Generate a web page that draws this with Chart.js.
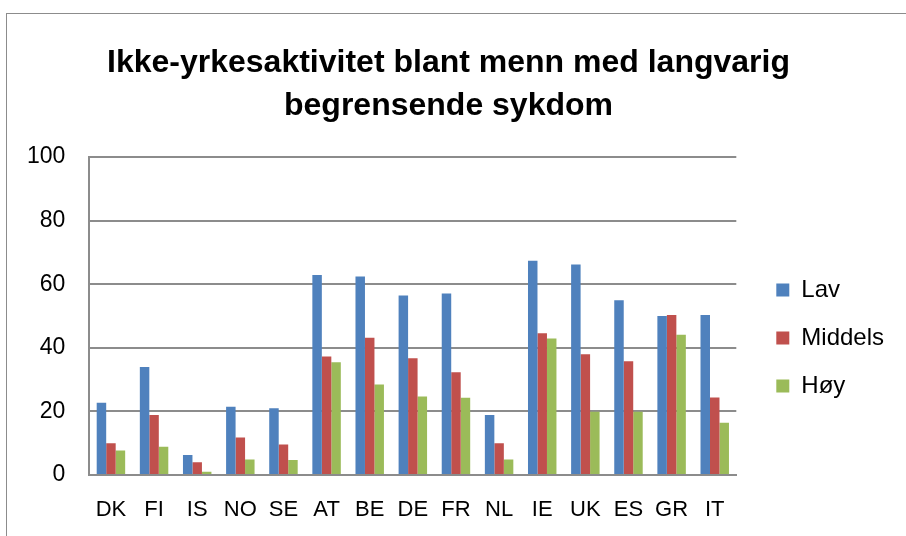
<!DOCTYPE html>
<html>
<head>
<meta charset="utf-8">
<script src="https://cdn.jsdelivr.net/npm/chart.js@4"></script>
<style>
  html, body { margin: 0; padding: 0; background: #fff; }
  #wrap { position: relative; width: 906px; height: 536px; overflow: hidden; }
  #frame { position: absolute; left: 6px; top: 13px; width: 1000px; height: 1000px; border: 1.5px solid #8c8c8c; }
  #chart { position: absolute; left: 0; top: 0; }
</style>
</head>
<body>
<div id="wrap">
  <div id="frame"></div>
  <canvas id="chart" width="906" height="536"></canvas>
</div>
<script>
// Chart data
const countries = ['DK', 'FI', 'IS', 'NO', 'SE', 'AT', 'BE', 'DE', 'FR', 'NL', 'IE', 'UK', 'ES', 'GR', 'IT'];
const lav     = [22.7, 34.0, 6.3, 21.5, 21.0, 62.9, 62.4, 56.5, 57.1, 18.9, 67.4, 66.2, 55.0, 50.0, 50.3];
const middels = [10.0, 18.9, 4.0, 11.8, 9.6, 37.3, 43.2, 36.7, 32.3, 10.0, 44.6, 38.0, 35.8, 50.3, 24.4];
const hoy     = [7.7, 8.9, 1.0, 4.9, 4.7, 35.5, 28.5, 24.7, 24.3, 4.9, 42.9, 19.9, 19.9, 44.1, 16.4];
const yTicks  = [0, 20, 40, 60, 80, 100];

const fontFamily = '"Liberation Sans", Arial, sans-serif';

function makeSet(label, data, color) {
    return {
        label: label,
        data: data,
        backgroundColor: color,
        borderWidth: 0,
        categoryPercentage: 0.66,
        barPercentage: 1.0,
        yAxisID: 'y'
    };
}

const ctx = document.getElementById('chart');
new Chart(ctx, {
    type: 'bar',
    data: {
        labels: countries,
        datasets: [
            makeSet('Lav', lav, '#4F81BD'),
            makeSet('Middels', middels, '#C0504D'),
            makeSet('Høy', hoy, '#9BBB59')
        ]
    },
    options: {
        responsive: false,
        animation: false,
        layout: {
            padding: { left: 3, right: 12, top: 42, bottom: 0 }
        },
        scales: {
            x: {
                grid: { display: false, drawTicks: false },
                border: { color: '#8c8c8c', width: 2 },
                ticks: { color: '#000', font: { family: fontFamily, size: 22 }, padding: 22 },
                afterFit: function(scale) { scale.height = 61; }
            },
            y: {
                min: 0,
                max: 100,
                afterBuildTicks: function(axis) {
                    axis.ticks = yTicks.map(v => ({ value: v }));
                },
                grid: { color: '#8c8c8c', lineWidth: 2, drawTicks: false },
                border: { color: '#8c8c8c', width: 2 },
                ticks: { color: '#000', font: { family: fontFamily, size: 23 }, padding: 24 }
            },
            // empty spacer between plot and legend
            gap: {
                position: 'right',
                display: true,
                grid: { display: false, drawTicks: false },
                border: { display: false },
                ticks: { display: false },
                afterFit: function(scale) { scale.width = 16; }
            }
        },
        plugins: {
            title: {
                display: true,
                text: ['Ikke-yrkesaktivitet blant menn med langvarig', 'begrensende sykdom'],
                color: '#000',
                font: { family: fontFamily, size: 32, weight: 'bold', lineHeight: 1.345 },
                padding: { top: 0, bottom: 29 }
            },
            legend: {
                position: 'right',
                title: {
                    display: true,
                    text: ' ',
                    font: { size: 10 },
                    padding: { top: 43, bottom: 43 }
                },
                labels: {
                    color: '#000',
                    font: { family: fontFamily, size: 24 },
                    boxWidth: 13,
                    boxHeight: 13,
                    padding: 24
                }
            },
            tooltip: { enabled: false }
        }
    }
});
</script>
</body>
</html>
